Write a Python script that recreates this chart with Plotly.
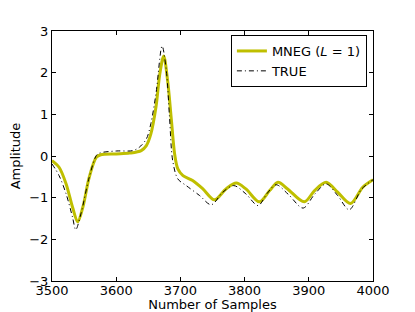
import plotly.graph_objects as go

# MNEG (L=1) estimated series
mneg_x = [3500, 3511, 3522, 3532, 3540, 3548, 3558, 3569, 3576, 3600, 3621, 3639, 3647, 3654, 3662, 3668, 3674,
          3680, 3686, 3691, 3696, 3704, 3719, 3735, 3753, 3771, 3787, 3802, 3823, 3839, 3852, 3867, 3893,
          3909, 3927, 3945, 3965, 3984, 4000]
mneg_y = [-0.11, -0.27, -0.67, -1.23, -1.58, -1.23, -0.51, -0.03, 0.03, 0.05, 0.07, 0.13, 0.25, 0.53, 1.18, 1.98, 2.40,
          1.82, 0.86, 0.05, -0.31, -0.47, -0.59, -0.79, -1.05, -0.79, -0.65, -0.79, -1.10, -0.83, -0.63, -0.79, -1.10,
          -0.83, -0.63, -0.87, -1.14, -0.75, -0.57]

# TRUE estimated series
true_x = [3500, 3511, 3522, 3532, 3537, 3545, 3558, 3569, 3574, 3600, 3626, 3636, 3647, 3654, 3662, 3671.5,
          3678, 3683, 3688, 3696, 3709, 3730, 3748, 3766, 3783, 3802, 3821, 3835, 3849, 3868, 3891,
          3909, 3927, 3945, 3963, 3982, 4000]
true_y = [-0.19, -0.47, -0.91, -1.47, -1.77, -1.39, -0.51, 0.01, 0.07, 0.12, 0.13, 0.21, 0.41, 0.78, 1.50, 2.64,
          2.06, 0.94, -0.11, -0.55, -0.71, -0.95, -1.17, -0.87, -0.71, -0.91, -1.19, -0.90, -0.69, -0.92, -1.25,
          -0.92, -0.67, -0.95, -1.29, -0.80, -0.57]

x_ticks = [3500, 3600, 3700, 3800, 3900, 4000]
y_ticks = [-3, -2, -1, 0, 1, 2, 3]
y_labels = ["\u22123", "\u22122", "\u22121", "0", "1", "2", "3"]

font = "DejaVu Sans"

fig = go.Figure()
fig.add_trace(go.Scatter(x=mneg_x, y=mneg_y, mode="lines", name="MNEG (<i>L</i> = 1)",
                         line=dict(color="#bfbf00", width=3, shape="spline", smoothing=0.9)))
fig.add_trace(go.Scatter(x=true_x, y=true_y, mode="lines", name="TRUE",
                         line=dict(color="black", width=1, dash="5px,3px,1px,3px", shape="spline", smoothing=0.9)))

axis_common = dict(showgrid=False, zeroline=False, showline=True, linecolor="black", linewidth=1,
                   mirror="ticks", ticks="inside", ticklen=4, tickcolor="black", automargin=False,
                   tickfont=dict(family=font, size=13, color="black"))

# page body has an 8px default margin, so the figure is sized to compensate
fig.update_layout(
    width=407, height=304,
    margin=dict(l=44, r=42, t=23, b=31),
    paper_bgcolor="white", plot_bgcolor="white",
    font=dict(family=font, size=13, color="black"),
    xaxis=dict(range=[3500, 4000], tickvals=x_ticks, ticktext=[str(v) for v in x_ticks],
               title=dict(text="Number of Samples", font=dict(family=font, size=13), standoff=5),
               ticklabelstandoff=-3,
               **axis_common),
    yaxis=dict(range=[-3, 3], tickvals=y_ticks, ticktext=y_labels,
               title=dict(text="Amplitude", font=dict(family=font, size=13), standoff=8),
               **axis_common),
    legend=dict(x=0.981, y=0.984, xanchor="right", yanchor="top",
                bordercolor="black", borderwidth=1, bgcolor="white",
                font=dict(family=font, size=13), tracegroupgap=0, itemwidth=30),
    showlegend=True,
)

fig.write_html("out.html")
